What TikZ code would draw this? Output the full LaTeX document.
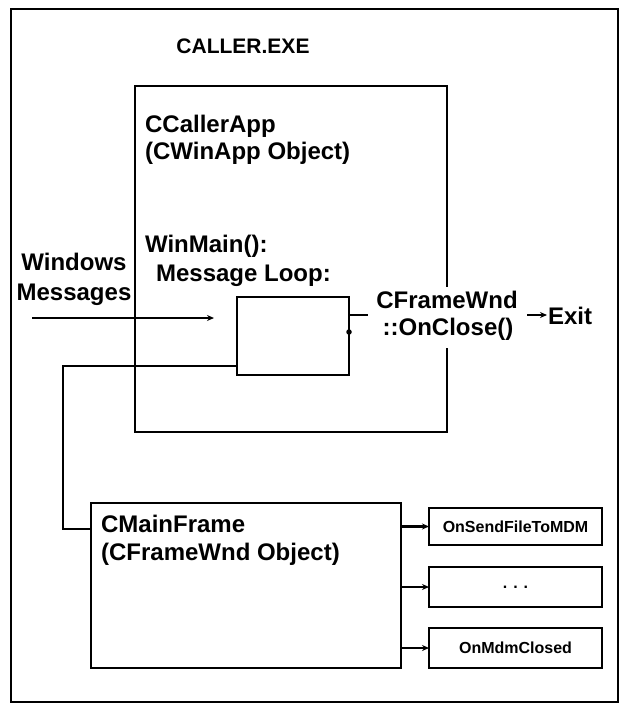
\documentclass[tikz,border=0pt]{standalone}
\usepackage{fontspec}
\setmainfont{Liberation Sans}
\usetikzlibrary{arrows.meta}
\begin{document}
\begin{tikzpicture}[x=1pt,y=-1pt,line width=2.2pt,
  box/.style={draw,line width=2.2pt,inner sep=0pt,outer sep=0pt,anchor=north west},
  bigfont/.style={font=\bfseries\fontsize{24}{29}\selectfont},
  big/.style={bigfont,inner sep=0pt,anchor=base west},
  method/.style={box,minimum width=173pt},
  mlabel/.style={font=\bfseries\fontsize{16}{19}\selectfont,inner sep=0pt},
  arr/.style={line width=2.2pt,-{Stealth[length=7pt,width=6pt]}},
  conn/.style={line width=2.2pt}]
\useasboundingbox (0,0) rectangle (622,704);
% outer frame
\node[box,minimum width=607pt,minimum height=693pt] (outer) at (11,9) {};
\node[font=\bfseries\fontsize{21}{25}\selectfont,inner sep=0pt,anchor=base] (title) at (243,53) {CALLER.EXE};
% CCallerApp box
\node[box,minimum width=312pt,minimum height=346pt] (app) at (135,86) {};
\node[big] (appname) at (144,132) {CCallerApp};
\node[big] (appobj) at (144,159) {(CWinApp Object)};
\node[big] (winmain) at (144,252) {WinMain():};
\node[big] (msgloop) at (155,281) {Message Loop:};
% Windows messages
\node[bigfont,inner sep=0pt,anchor=base] (win1) at (74,270) {Windows};
\node[bigfont,inner sep=0pt,anchor=base] (win2) at (74,300) {Messages};
% message loop box
\node[box,minimum width=112pt,minimum height=78pt] (loop) at (237,297) {};
\coordinate (msgstart) at (32,318);
\coordinate (msgend) at (214,318);
\draw[arr] (msgstart) -- (msgend);
% CFrameWnd::OnClose
\node[bigfont,fill=white,inner xsep=1pt,inner ysep=0pt,text height=21pt,text depth=7pt,anchor=base] (cf1) at (447,308) {CFrameWnd};
\node[bigfont,fill=white,inner xsep=1pt,inner ysep=0pt,text height=20pt,text depth=13pt,anchor=base] (cf2) at (448,335) {::OnClose()};
\coordinate (loopout) at (349,315);
\coordinate (cfin) at (368,315);
\draw[conn] (loopout) -- (cfin);
\node[circle,fill,inner sep=0pt,minimum size=5.5pt] (dot) at (349,332) {};
% Exit
\node[bigfont,inner sep=0pt,anchor=base west] (exit) at (547,324) {Exit};
\coordinate (exitstart) at (527,315);
\draw[arr] (exitstart) -- (exit.west |- exitstart);
% CMainFrame
\node[box,minimum width=310pt,minimum height=165pt] (main) at (91,503) {};
\node[big] (mainname) at (100,532) {CMainFrame};
\node[big] (mainobj) at (100,560) {(CFrameWnd Object)};
\coordinate (loopleft) at (237,366);
\coordinate (mainin) at (91,529);
\draw[conn] (loopleft) -- (63,366) -- (63,529) -- (mainin);
% method boxes
\node[method,minimum height=37pt] (m1) at (429,508) {};
\node[mlabel] (m1t) at (m1.center) {OnSendFileToMDM};
\node[method,minimum height=40pt] (m2) at (429,567) {};
\node[mlabel] (m2t) at (m2.center) {.\hspace{6pt}.\hspace{6pt}.};
\node[method,minimum height=40pt] (m3) at (429,628) {};
\node[mlabel] (m3t) at (m3.center) {OnMdmClosed};
\draw[arr] (main.east |- m1.west) -- (m1.west);
\draw[arr] (main.east |- m2.west) -- (m2.west);
\draw[arr] (main.east |- m3.west) -- (m3.west);
\end{tikzpicture}
\end{document}
